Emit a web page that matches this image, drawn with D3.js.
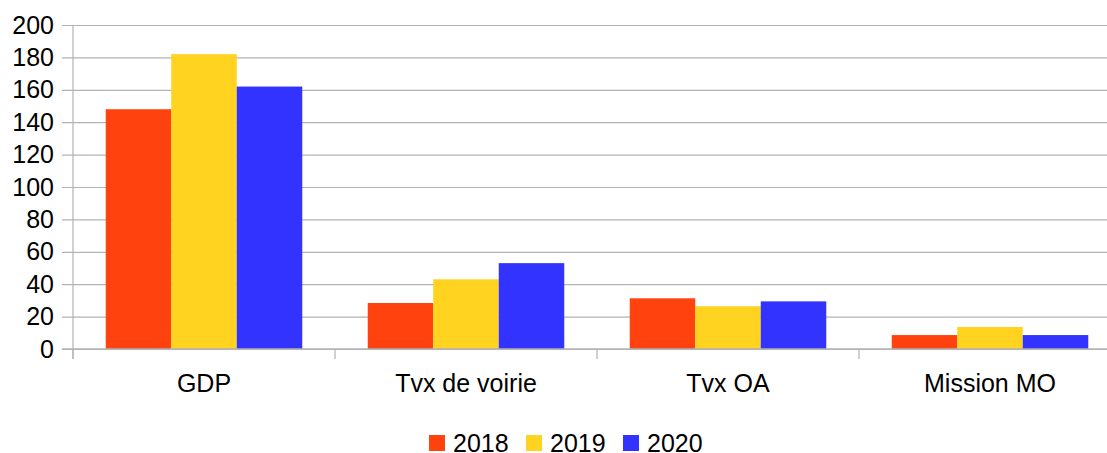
<!DOCTYPE html>
<html>
<head>
<meta charset="utf-8">
<script src="https://cdn.jsdelivr.net/npm/d3@7"></script>
<style>
  html, body { margin: 0; padding: 0; background: #fff; }
  svg { display: block; font-family: "Liberation Sans", Arial, sans-serif; }
</style>
</head>
<body>
<svg id="chart" width="1107" height="453"></svg>
<script>
var categories = [ 'GDP', 'Tvx de voirie', 'Tvx OA', 'Mission MO' ];
var seriesNames = [ '2018', '2019', '2020' ];
var values2018 = [ 148, 28.4, 31.3, 8.6 ];
var values2019 = [ 182, 43, 26.4, 13.6 ];
var values2020 = [ 162, 53, 29.4, 8.6 ];
var yTicks = [ 0, 20, 40, 60, 80, 100, 120, 140, 160, 180, 200 ];
var colors = [ '#ff420e', '#ffd320', '#3333ff' ];

(function(){
    'use strict';

    var svg = d3.select( '#chart' ),
        margin = { top: 25, left: 73 },
        width = 1048,
        height = 324,
        fontSize = 25,
        seriesValues = [ values2018, values2019, values2020 ],
        g = svg.append( 'g' ).attr( 'transform', 'translate(' + margin.left + ',' + margin.top + ')' );

    var x0 = d3.scaleBand()
        .domain( categories )
        .range( [ 0, width ] )
        .paddingInner( 0.25 )
        .paddingOuter( 0.125 );

    var x1 = d3.scaleBand()
        .domain( seriesNames )
        .range( [ 0, x0.bandwidth() ] );

    var y = d3.scaleLinear()
        .domain( [ 0, 200 ] )
        .range( [ height, 0 ] );

    // grid lines + y labels
    var yAxis = d3.axisLeft( y )
        .tickValues( yTicks )
        .tickSize( -(width + 11) )
        .tickPadding( 8 );

    g.append( 'g' )
        .attr( 'class', 'y-axis' )
        .attr( 'transform', 'translate(-11,0)' )
        .call( yAxis )
        .call( function( sel ){
            sel.select( '.domain' ).remove();
            sel.selectAll( 'line' ).attr( 'stroke', '#b3b3b3' ).attr( 'stroke-width', 1.2 );
            sel.selectAll( 'text' ).attr( 'fill', '#000' ).attr( 'font-size', fontSize )
                .attr( 'font-family', '"Liberation Sans", Arial, sans-serif' );
        } );

    // vertical axis line
    g.append( 'line' )
        .attr( 'x1', 0 ).attr( 'x2', 0 )
        .attr( 'y1', 0 ).attr( 'y2', height + 10 )
        .attr( 'stroke', '#b3b3b3' ).attr( 'stroke-width', 1.2 );

    // bars
    var groups = g.selectAll( '.cat' )
        .data( categories )
        .enter().append( 'g' )
        .attr( 'class', 'cat' )
        .attr( 'transform', function( d ){ return 'translate(' + x0( d ) + ',0)'; } );

    groups.selectAll( 'rect' )
        .data( function( d, i ){
            return seriesNames.map( function( s, k ){
                return { series: s, value: seriesValues[k][i], color: colors[k] };
            } );
        } )
        .enter().append( 'rect' )
        .attr( 'x', function( d ){ return x1( d.series ); } )
        .attr( 'width', x1.bandwidth() )
        .attr( 'y', function( d ){ return y( d.value ); } )
        .attr( 'height', function( d ){ return height - y( d.value ); } )
        .attr( 'fill', function( d ){ return d.color; } );

    // baseline
    g.append( 'line' )
        .attr( 'x1', -11 ).attr( 'x2', width )
        .attr( 'y1', height ).attr( 'y2', height )
        .attr( 'stroke', '#b3b3b3' ).attr( 'stroke-width', 1.5 );

    // category boundary ticks
    var step = x0.step();
    g.selectAll( '.cat-tick' )
        .data( d3.range( categories.length + 1 ) )
        .enter().append( 'line' )
        .attr( 'class', 'cat-tick' )
        .attr( 'x1', function( d ){ return d * step; } )
        .attr( 'x2', function( d ){ return d * step; } )
        .attr( 'y1', height ).attr( 'y2', height + 10 )
        .attr( 'stroke', '#b3b3b3' ).attr( 'stroke-width', 1.2 );

    // category labels
    g.selectAll( '.cat-label' )
        .data( categories )
        .enter().append( 'text' )
        .attr( 'class', 'cat-label' )
        .attr( 'x', function( d ){ return x0( d ) + x0.bandwidth() / 2; } )
        .attr( 'y', height + 43 )
        .attr( 'text-anchor', 'middle' )
        .attr( 'font-size', fontSize )
        .text( function( d ){ return d; } );

    // legend
    var legend = svg.append( 'g' ).attr( 'transform', 'translate(429,435)' ),
        itemWidth = 97;

    var items = legend.selectAll( 'g' )
        .data( seriesNames )
        .enter().append( 'g' )
        .attr( 'transform', function( d, i ){ return 'translate(' + ( i * itemWidth ) + ',0)'; } );

    items.append( 'rect' )
        .attr( 'width', 16 ).attr( 'height', 16 )
        .attr( 'fill', function( d, i ){ return colors[i]; } );

    items.append( 'text' )
        .attr( 'x', 24 )
        .attr( 'y', 8 )
        .attr( 'dy', '0.35em' )
        .attr( 'font-size', fontSize )
        .text( function( d ){ return d; } );
})();
</script>
</body>
</html>
